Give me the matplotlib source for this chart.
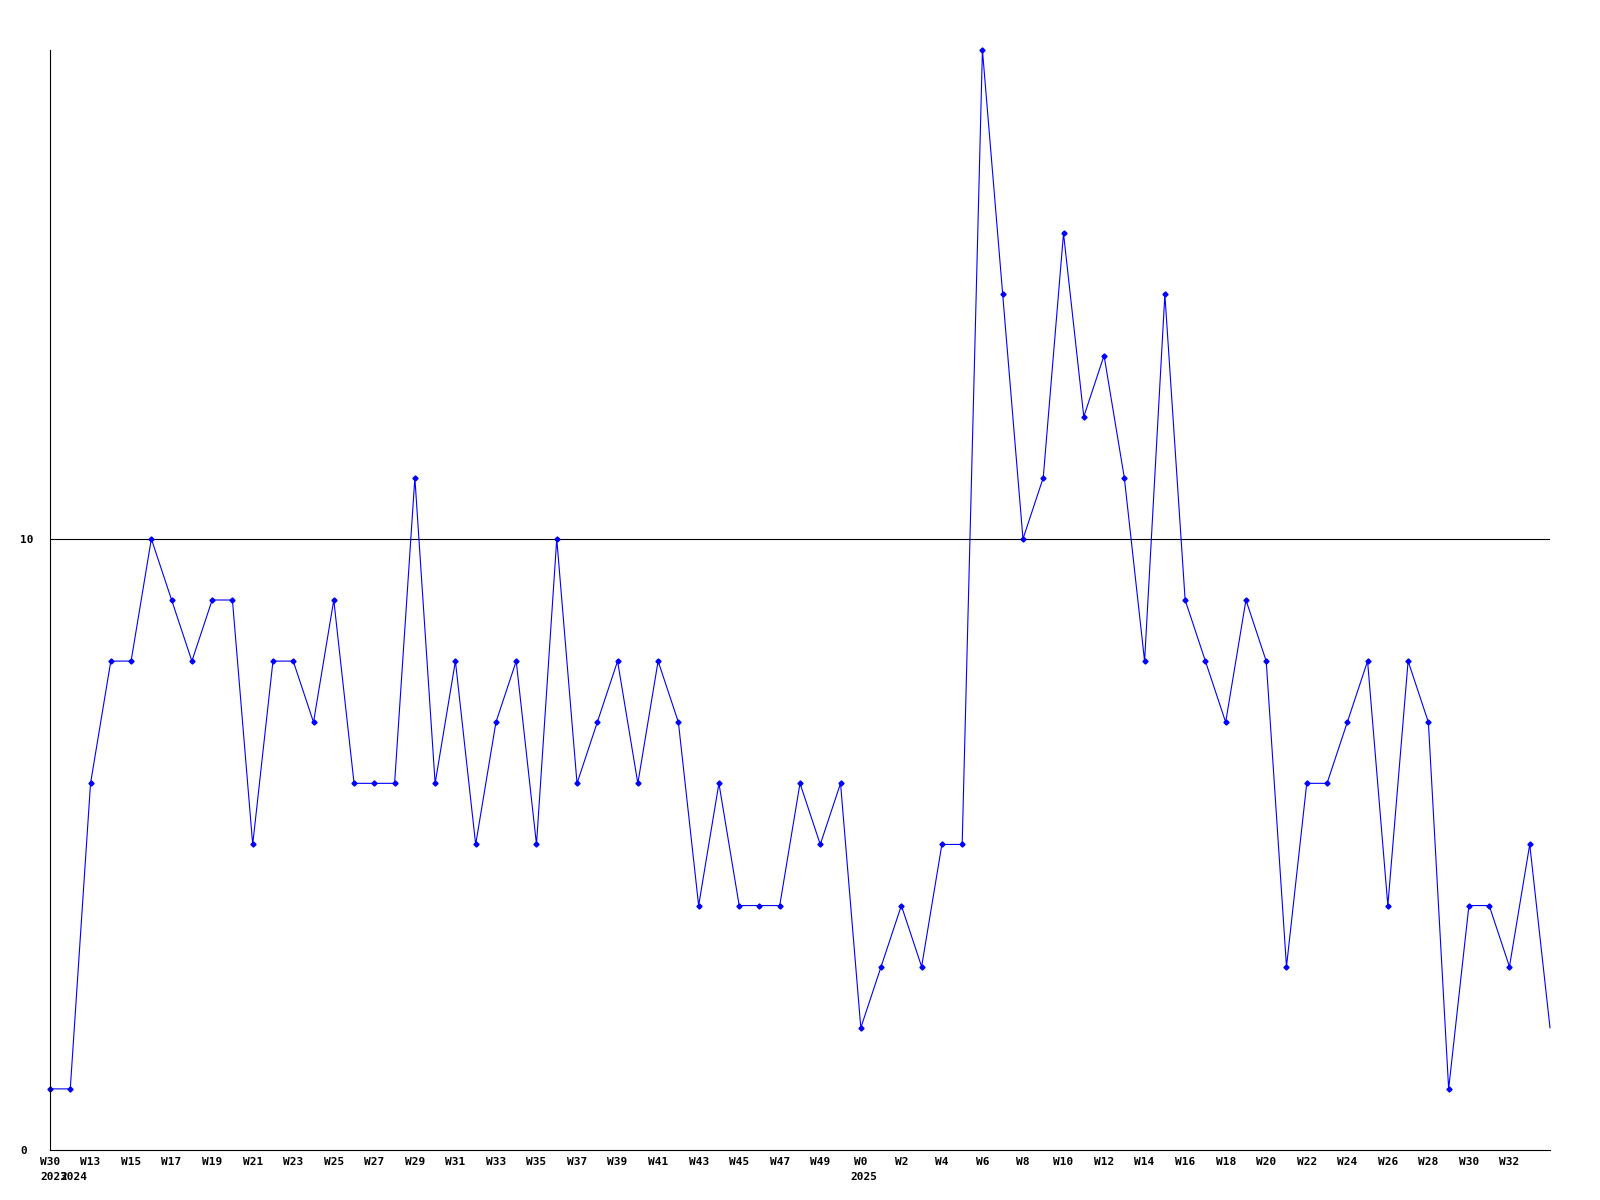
import matplotlib
matplotlib.use("Agg")
import matplotlib.pyplot as plt
from matplotlib.transforms import blended_transform_factory, offset_copy

weeks = ["W30", "W12"] + [f"W{w}" for w in range(13, 51)] + [f"W{w}" for w in range(0, 35)]
years = {0: "2023", 1: "2024", 40: "2025"}
values = [1, 1, 6, 8, 8, 10, 9, 8, 9, 9, 5, 8, 8, 7, 9, 6, 6, 6, 11, 6,
          8, 5, 7, 8, 5, 10, 6, 7, 8, 6, 8, 7, 4, 6, 4, 4, 4, 6, 5, 6,
          2, 3, 4, 3, 5, 5, 18, 14, 10, 11, 15, 12, 13, 11, 8, 14, 9, 8, 7, 9,
          8, 3, 6, 6, 7, 8, 4, 8, 7, 1, 4, 4, 3, 5, 2]
y_ticks = [0, 10]

font = {"family": "DejaVu Sans Mono", "weight": "bold", "size": 8}

fig = plt.figure(figsize=(16, 12), dpi=100)
ax = fig.add_axes([50 / 1600, 50 / 1200, 1500 / 1600, 1100 / 1200])
x = list(range(len(values)))
ax.plot(x, values, color="#0000ff", lw=0.8, marker="D", markersize=2.6,
        markevery=list(range(len(values) - 1)), clip_on=False)
ax.set_xlim(0, len(values) - 1)
ax.set_ylim(0, 18)
ax.axhline(10, color="black", lw=0.8, zorder=0)

for s in ["top", "right"]:
    ax.spines[s].set_visible(False)
for s in ["left", "bottom"]:
    ax.spines[s].set_linewidth(0.8)

ax.set_yticks(y_ticks)
ax.set_yticklabels([str(v) for v in y_ticks], fontdict=font)
ax.tick_params(axis="y", length=0, pad=21.6)
for lab in ax.get_yticklabels():
    lab.set_horizontalalignment("left")

xt = list(range(0, len(values) - 1, 2))
ax.set_xticks(xt)
ax.set_xticklabels([weeks[i] for i in xt], fontdict=font)
ax.tick_params(axis="x", length=0, pad=5)

tr = blended_transform_factory(ax.transData, fig.transFigure)
for i, yr in years.items():
    t = offset_copy(tr, fig=fig, x=-10, y=0, units="dots")
    ax.text(i, 1 - 1177 / 1200, yr, transform=t, ha="left", va="center", **font)

fig.savefig("out.png", dpi=100, facecolor="white")
